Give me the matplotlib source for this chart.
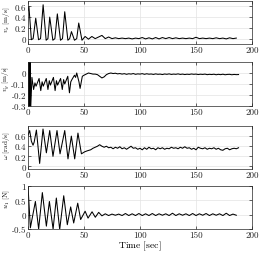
import numpy as np
import matplotlib
matplotlib.use("Agg")
import matplotlib.pyplot as plt

plt.rcParams['font.family'] = 'serif'
plt.rcParams['font.serif'] = ['cmr10', 'DejaVu Serif']
plt.rcParams['mathtext.fontset'] = 'cm'
plt.rcParams['axes.formatter.use_mathtext'] = True

# ---------------- data ----------------
xticks = [0, 50, 100, 150, 200]

# v_x [m/s]
vx_head_t = [0, 0.8, 3.0, 4.6, 6.9, 9.4, 11.2, 13.5, 16.2, 17.8, 19.4, 22.2, 24.0, 26.2,
             29.0, 30.8, 32.8, 35.6, 37.2, 38.8, 41.5, 43.5, 45.3, 48.2]
vx_head_v = [0.52, 0.60, -0.02, 0.0, 0.38, -0.02, 0.0, 0.63, -0.03, 0.0, 0.40, -0.03, 0.0, 0.46,
             -0.03, 0.0, 0.50, -0.03, 0.0, 0.13, -0.03, 0.0, 0.29, -0.03]
vx_tail_start, vx_tail_step = 51, 3
vx_tail_v = [0.04, -0.01, 0.04, 0.0, 0.03, 0.06, 0.0, 0.03, 0.0, 0.015, 0.0, 0.01, 0.0, 0.01,
             -0.005, 0.01, 0.0, 0.02, -0.005, 0.015, -0.005, 0.02, -0.005, 0.02, 0.0, 0.02, 0.0,
             0.015, 0.0, 0.01, 0.0, 0.01, 0.0, 0.025, 0.0, 0.01, 0.0, 0.01, 0.0, 0.015, 0.0, 0.01,
             -0.005, 0.015, 0.0, 0.01]

# v_y [m/s]
vy_head_t = [0, 0.4, 0.9, 1.4, 1.9, 2.3, 3.5, 5.0, 6.2, 7.2, 9.9, 11.4, 12.6, 13.6, 16.3, 17.8,
             19.0, 20.0, 22.7, 24.2, 25.4, 26.4, 29.1, 30.6, 31.8, 32.8, 35.5, 37.0, 38.2, 39.2,
             41.5, 42.5, 43.5, 45.5, 46.5, 48.5]
vy_head_v = [0.15, -0.35, 0.15, -0.35, 0.15, -0.35, -0.04, -0.15, -0.09, -0.12, -0.05, -0.16,
             -0.08, -0.12, -0.05, -0.15, -0.07, -0.11, -0.04, -0.16, -0.07, -0.11, -0.05, -0.15,
             -0.06, -0.10, -0.03, -0.18, -0.08, -0.06, -0.02, -0.04, 0.0, -0.08, -0.14, -0.03]
vy_tail_start, vy_tail_step = 50, 2
vy_tail_v = [-0.02, -0.01, 0.0, -0.005, -0.01, -0.01, -0.015, -0.03, -0.045, -0.035, -0.015,
             -0.005, 0.0, -0.005, -0.002, -0.008, -0.005, -0.01, -0.006, -0.012, -0.007, -0.01,
             -0.005, -0.012, -0.008, -0.01, -0.006, -0.012, -0.007, -0.011, -0.009, -0.013,
             -0.008, -0.012, -0.01, -0.014, -0.009, -0.012, -0.008, -0.013, -0.01, -0.012,
             -0.008, -0.013, -0.01, -0.014, -0.011, -0.013, -0.009, -0.012, -0.01, -0.014,
             -0.011, -0.013, -0.01, -0.015, -0.012, -0.014, -0.011, -0.016, -0.012, -0.015,
             -0.011, -0.016, -0.013, -0.012, -0.016, -0.013, -0.015, -0.014]

# omega [rad/s]
om_head_t = [0, 1.5, 3.0, 4.5, 5.5, 7.5, 10.4, 13.4, 16.4, 19.4, 22.3, 25.9, 28.6, 32.8, 35.7,
             38.7, 41.7, 44.6, 47.7, 50.6, 53.0]
om_head_v = [0.62, 0.71, 0.50, 0.42, 0.48, 0.72, 0.06, 0.74, 0.27, 0.71, 0.20, 0.71, 0.25, 0.71,
             0.15, 0.60, 0.15, 0.66, 0.25, 0.29, 0.31]
om_tail_start, om_tail_step = 56, 2
om_tail_v = [0.33, 0.36, 0.38, 0.40, 0.43, 0.40, 0.38, 0.40, 0.37, 0.38, 0.35, 0.38, 0.36, 0.39,
             0.35, 0.37, 0.34, 0.37, 0.40, 0.36, 0.37, 0.34, 0.36, 0.33, 0.37, 0.34, 0.38, 0.35,
             0.36, 0.33, 0.37, 0.35, 0.37, 0.34, 0.36, 0.35, 0.38, 0.36, 0.37, 0.35, 0.38, 0.36,
             0.39, 0.36, 0.37, 0.34, 0.36, 0.33, 0.38, 0.36, 0.35, 0.37, 0.34, 0.36, 0.35, 0.37,
             0.34, 0.36, 0.33, 0.32, 0.35, 0.36, 0.33, 0.35, 0.36, 0.35, 0.37]

# u_1 [N]
u1_head_t = [0, 2.1, 6.6, 9.5, 12.8, 16.4, 19.1, 22.4, 25.3, 28.3, 31.9, 35.1, 38.1, 40.8, 44.4,
             47.0, 51.0, 53.6, 57.2, 60.1, 63.1]
u1_head_v = [1.0, -0.46, 0.46, -0.50, 0.77, -0.40, 0.46, -0.50, 0.58, -0.52, 0.66, -0.35, 0.27,
             -0.29, 0.40, -0.17, 0.12, -0.12, 0.10, -0.09, 0.08]
u1_tail_start, u1_tail_step = 66, 3
u1_tail_v = [-0.04, 0.03, -0.03, 0.02, -0.02, 0.02, -0.03, 0.04, -0.03, 0.03, -0.03, 0.04, -0.03,
             0.03, -0.03, 0.04, -0.03, 0.03, -0.02, 0.03, -0.03, 0.05, -0.03, 0.03, -0.02, 0.03,
             -0.03, 0.04, -0.03, 0.03, -0.02, 0.04, -0.03, 0.03, -0.02, 0.03, -0.03, 0.05, -0.03,
             0.02, -0.02]

panels = [
    (vx_head_t, vx_head_v, vx_tail_start, vx_tail_step, vx_tail_v,
     r'$v_x\ \mathrm{[m/s]}$', (-0.1, 0.7), [0, 0.2, 0.4, 0.6], ['0', '0.2', '0.4', '0.6']),
    (vy_head_t, vy_head_v, vy_tail_start, vy_tail_step, vy_tail_v,
     r'$v_y\ \mathrm{[m/s]}$', (-0.3, 0.1), [-0.3, -0.2, -0.1, 0], ['-0.3', '-0.2', '-0.1', '0']),
    (om_head_t, om_head_v, om_tail_start, om_tail_step, om_tail_v,
     r'$\omega\ \mathrm{[rad/s]}$', (-0.05, 0.8), [0, 0.2, 0.4, 0.6], ['0', '0.2', '0.4', '0.6']),
    (u1_head_t, u1_head_v, u1_tail_start, u1_tail_step, u1_tail_v,
     r'$u_1\ \mathrm{[N]}$', (-0.5, 1.0), [-0.5, 0, 0.5, 1], ['-0.5', '0', '0.5', '1']),
]

W, H = 260, 255
fig = plt.figure(figsize=(W / 100, H / 100), dpi=100)

# axes boxes in pixels: (top, bottom), and y-label centre (axes fraction)
boxes = [(2, 45), (63, 107), (127, 170), (187, 230)]
label_y = [0.58, 0.64, 0.57, 0.72]
left_px, right_px = 28, 252

for (ht, hv, ts, tstep, tv, ylab, ylim, yt, ytl), (top, bot), ly in zip(panels, boxes, label_y):
    ax = fig.add_axes([left_px / W, 1 - bot / H, (right_px - left_px) / W, (bot - top) / H])
    t = np.concatenate([np.asarray(ht, float), ts + tstep * np.arange(len(tv))])
    v = np.concatenate([np.asarray(hv, float), np.asarray(tv, float)])
    ax.plot(t, v, color='black', lw=0.75)
    ax.set_xlim(0, 200)
    ax.set_ylim(*ylim)
    ax.set_xticks(xticks)
    ax.set_xticklabels([str(x) for x in xticks])
    ax.set_yticks(yt)
    ax.set_yticklabels(ytl)
    ax.grid(True, color='#e3e3e3', lw=0.5)
    ax.set_axisbelow(True)
    ax.tick_params(direction='in', length=2, width=0.5, labelsize=6.5, pad=1.5,
                   top=True, right=True, colors='#262626')
    for s in ax.spines.values():
        s.set_linewidth(0.5)
        s.set_color('#262626')
    ax.set_ylabel(ylab, fontsize=5.2)
    ax.yaxis.set_label_coords(-0.071, ly)

ax.set_xlabel(r'$\mathrm{Time\ [sec]}$', fontsize=7, labelpad=-0.5)

fig.savefig('out.png', dpi=100)
